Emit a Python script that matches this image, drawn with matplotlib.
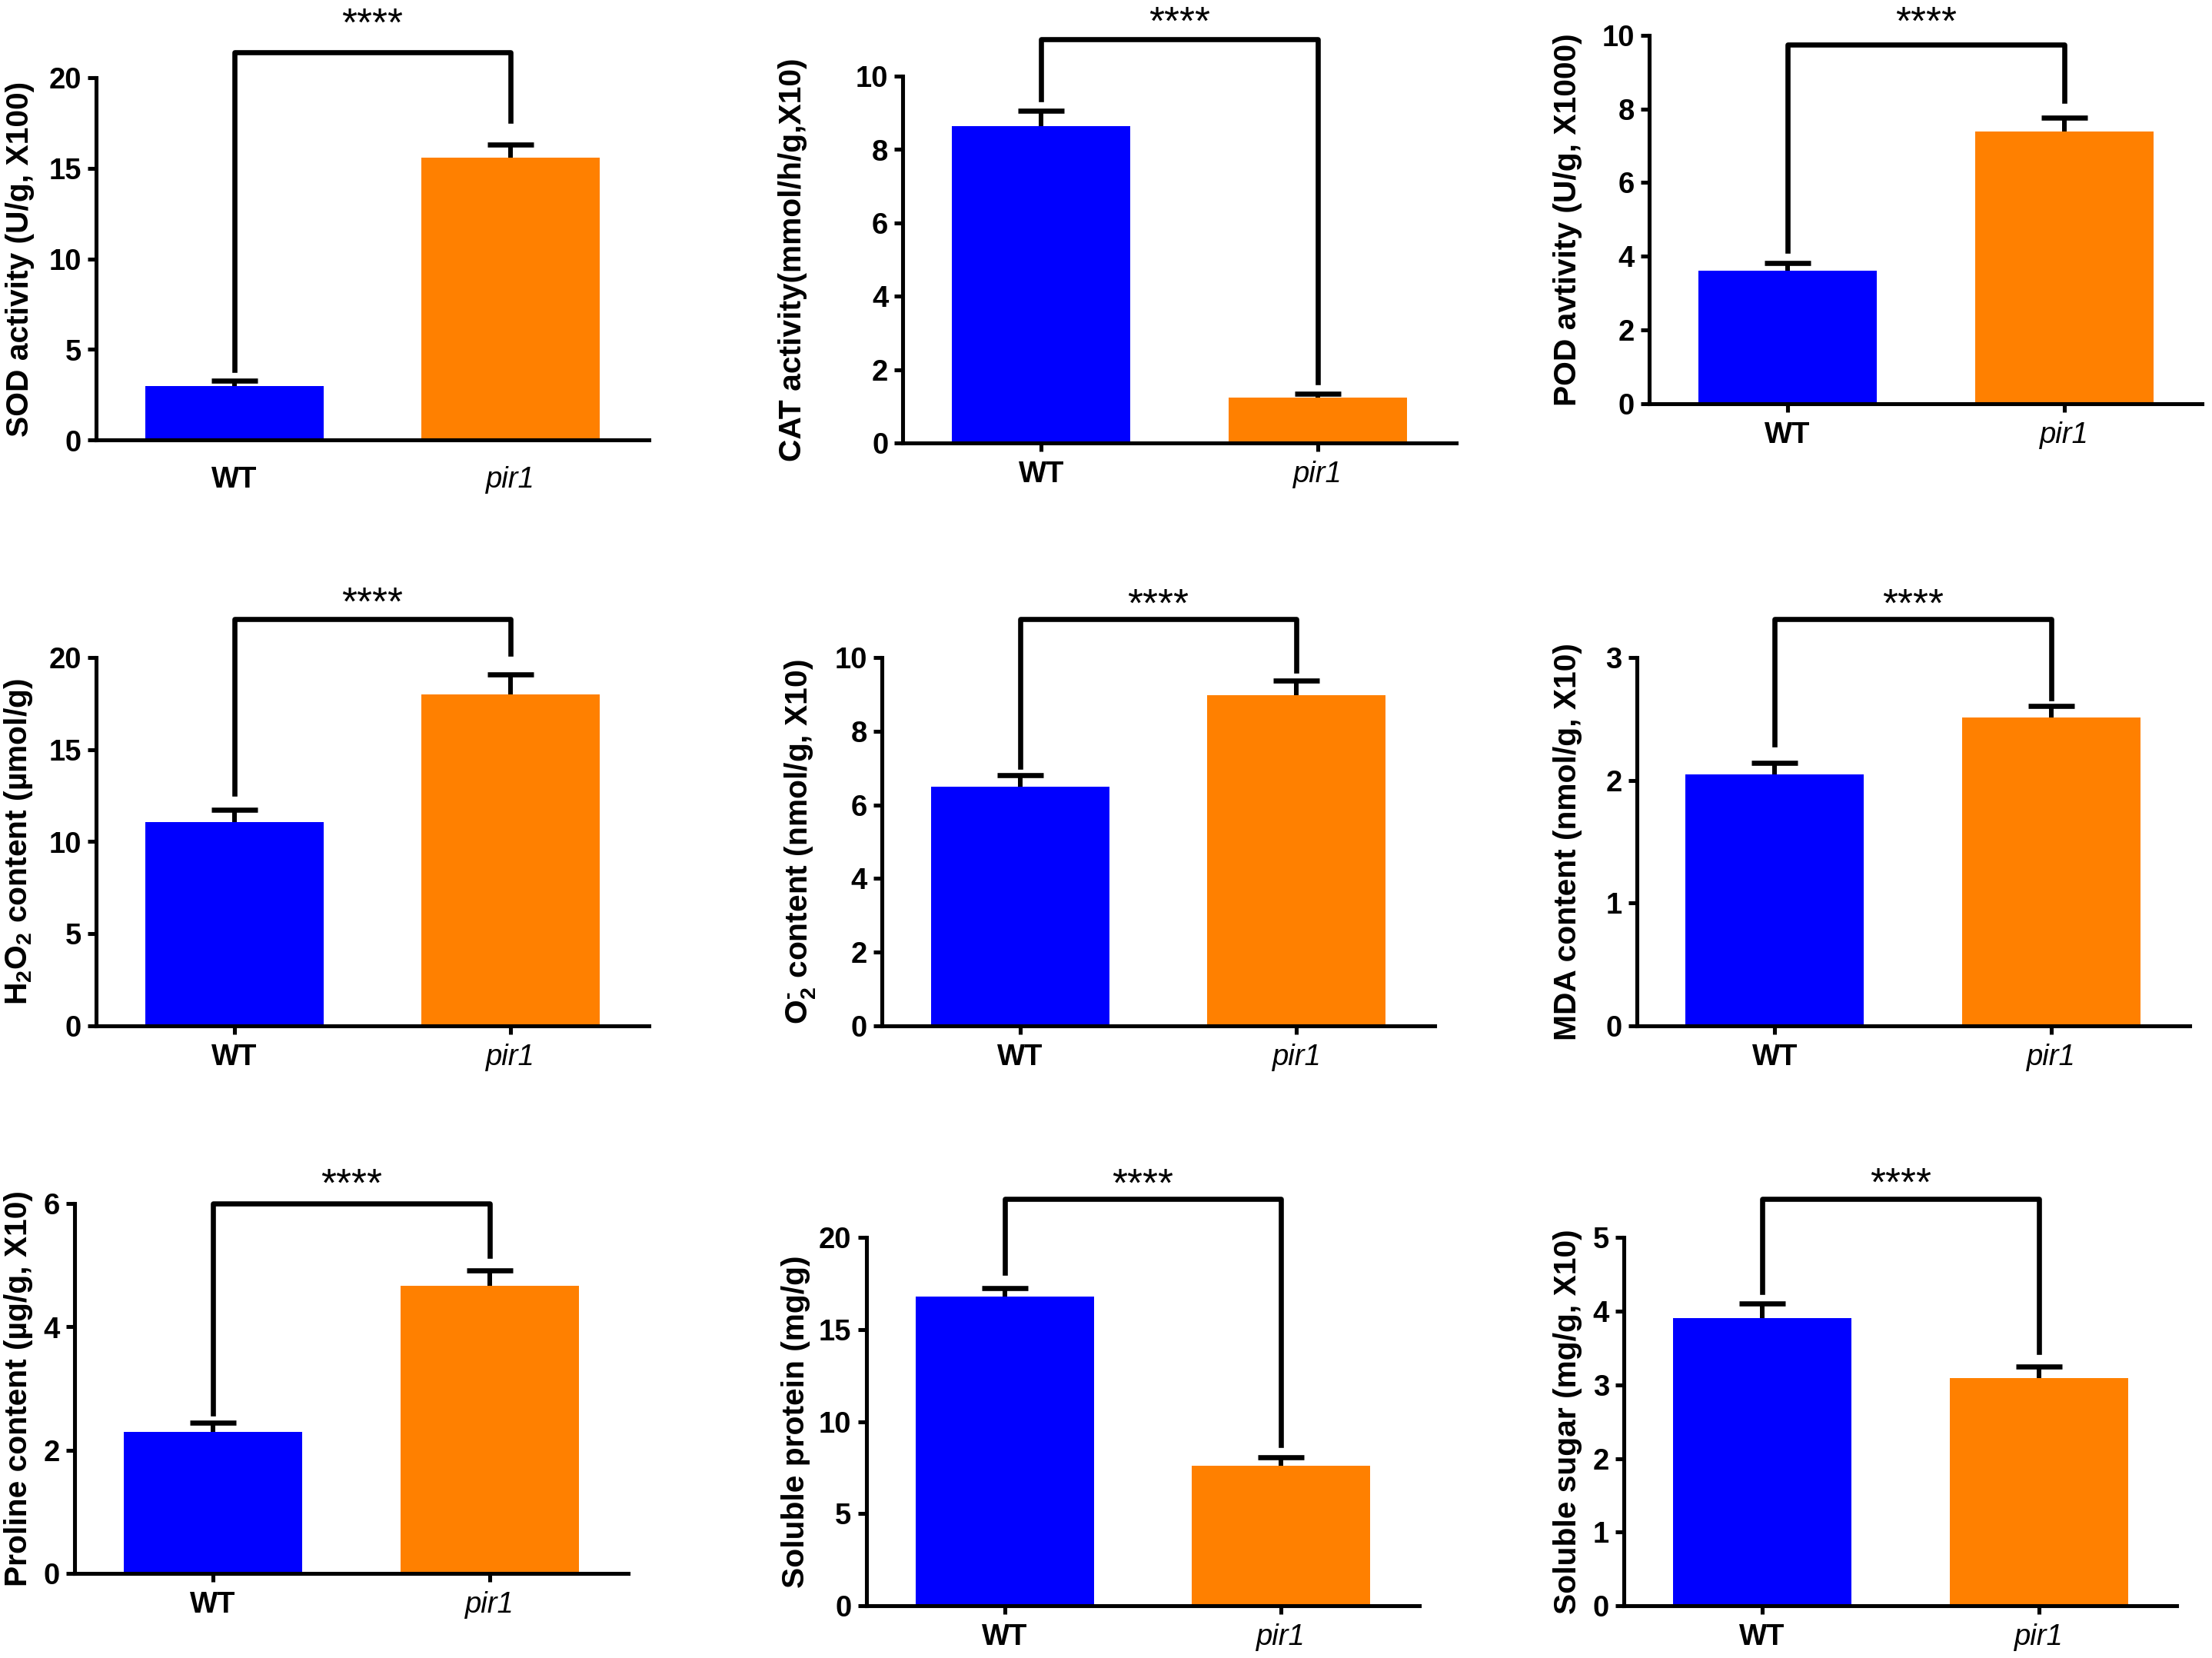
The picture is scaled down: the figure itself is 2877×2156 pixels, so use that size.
import matplotlib
matplotlib.use("Agg")
import matplotlib.pyplot as plt

# y axis titles of the nine panels
ylabels = [
    "SOD activity (U/g, X100)",
    "CAT activity(mmol/h/g,X10)",
    "POD avtivity (U/g, X1000)",
    "H$_2$O$_2$ content (\u00b5mol/g)",
    "O$_2^{\u2010}$ content (nmol/g, X10)",
    "MDA content (nmol/g, X10)",
    "Proline content (\u00b5g/g, X10)",
    "Soluble protein (mg/g)",
    "Soluble sugar (mg/g, X10)",
]
groups = ["WT", "pir1"]
y_max = [20, 10, 10, 20, 10, 3, 6, 20, 5]
y_step = [5, 2, 2, 5, 2, 1, 2, 5, 1]

wt_mean = [2.98, 8.63, 3.61, 11.07, 6.50, 2.045, 2.29, 16.78, 3.91]
wt_sd = [0.31, 0.42, 0.20, 0.67, 0.31, 0.097, 0.15, 0.49, 0.19]
pir1_mean = [15.56, 1.23, 7.38, 18.0, 8.98, 2.51, 4.67, 7.61, 3.09]
pir1_sd = [0.73, 0.12, 0.38, 1.06, 0.39, 0.094, 0.24, 0.45, 0.16]

# significance bracket (in data units of each panel)
bracket_y = [21.4, 11.0, 9.74, 22.1, 11.04, 3.31, 6.0, 22.1, 5.52]
wt_leg_end = [3.87, 9.38, 4.14, 12.6, 7.03, 2.29, 2.60, 18.08, 4.26]
pir1_leg_end = [17.6, 1.65, 8.21, 20.2, 9.64, 2.67, 5.15, 8.72, 3.45]
star_y = [23.4, 11.69, 10.58, 23.4, 11.67, 3.50, 6.45, 23.35, 5.84]
stars = "****"

# panel placement, in pixels of a 1568 x 1175 canvas: left, bottom, top
W, H = 1568.0, 1175.0
panel_px = [
    (68, 312, 55), (640, 314, 54), (1169, 286, 25),
    (68, 727, 466), (625, 727, 466), (1160, 727, 466),
    (53, 1115, 853), (614, 1138, 877), (1151, 1138, 877),
]
panel_w = 392
# x of the centre of each y axis title, same canvas
ylabel_x_px = [14, 562, 1111, 13, 567, 1111, 13, 564, 1111]

blue = "#0000FF"
orange = "#FF8000"

plt.rcParams["font.family"] = ["Liberation Sans", "DejaVu Sans"]
plt.rcParams["mathtext.fontset"] = "custom"
plt.rcParams["mathtext.rm"] = "Liberation Sans:bold"
plt.rcParams["mathtext.it"] = "Liberation Sans:bold:italic"
plt.rcParams["mathtext.bf"] = "Liberation Sans:bold"
plt.rcParams["mathtext.default"] = "rm"

fig = plt.figure(figsize=(15.68, 11.75), dpi=183.5)

for i in range(9):
    left, bottom, top = panel_px[i]
    ax = fig.add_axes([left / W, 1 - bottom / H, panel_w / W, (bottom - top) / H])

    x = [0, 1]
    means = [wt_mean[i], pir1_mean[i]]
    tops = [wt_mean[i] + wt_sd[i], pir1_mean[i] + pir1_sd[i]]
    ax.bar(x, means, width=0.645, color=[blue, orange], zorder=1)
    # upper error bars only
    ax.vlines(x, means, tops, colors="black", lw=2.35, zorder=3)
    ax.plot(x, tops, ls="none", marker="_", markersize=23.5,
            markeredgewidth=2.6, color="black", zorder=3)

    ax.plot([0, 0, 1, 1], [wt_leg_end[i], bracket_y[i], bracket_y[i], pir1_leg_end[i]],
            color="black", lw=2.6, clip_on=False, solid_joinstyle="round", zorder=4)
    ax.annotate(stars, (0.5, star_y[i]), xytext=(0, -5), textcoords="offset points",
                ha="center", va="center", fontsize=20, annotation_clip=False)

    ax.set_xlim(-0.5, 1.5)
    ax.set_ylim(0, y_max[i])

    ticks = [t * y_step[i] for t in range(int(round(y_max[i] / y_step[i])) + 1)]
    ax.set_yticks(ticks)
    ax.set_yticklabels([str(t) for t in ticks], fontweight="bold", fontsize=15)
    ax.set_xticks(x)
    xl = ax.set_xticklabels(groups, fontweight="bold", fontsize=15)
    xl[1].set_fontstyle("italic")
    xl[1].set_fontweight("normal")

    for s in ["top", "right"]:
        ax.spines[s].set_visible(False)
    for s in ["left", "bottom"]:
        ax.spines[s].set_linewidth(2.0)
        ax.spines[s].set_zorder(5)

    ax.tick_params(axis="y", length=4.5, width=2.0, pad=3)
    if i == 0:
        ax.tick_params(axis="x", length=0, width=2.0, pad=13)
    else:
        ax.tick_params(axis="x", length=4.5, width=2.0, pad=4.5)

    ax.set_ylabel(ylabels[i], fontsize=16, fontweight="bold", va="center")
    ax.yaxis.set_label_coords((ylabel_x_px[i] - left) / panel_w, 0.5)

fig.savefig("out.png", dpi=183.5, facecolor="white")
